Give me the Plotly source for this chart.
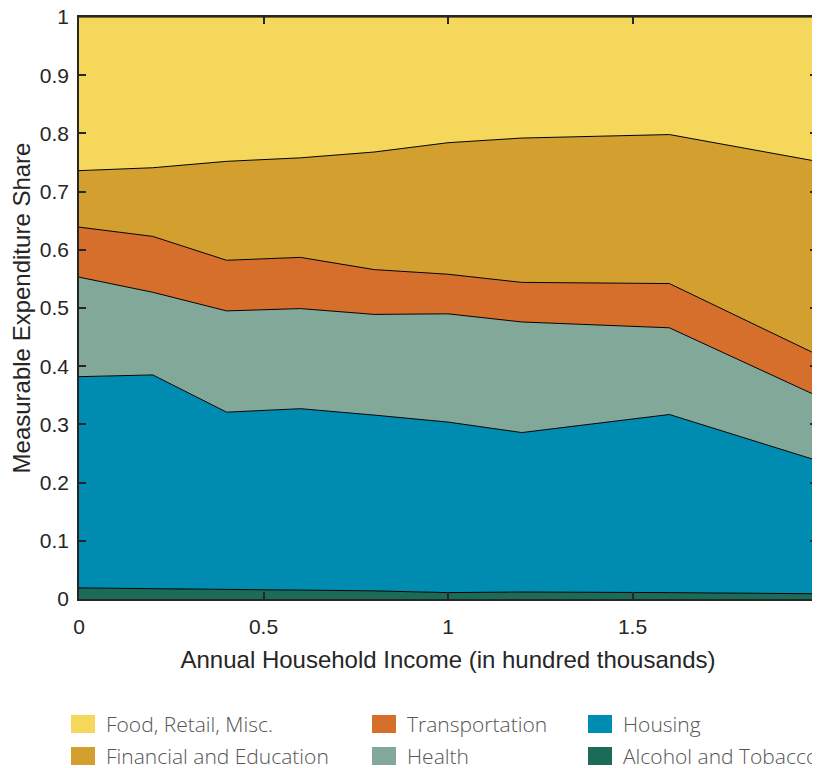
import plotly.graph_objects as go

income = [0, 0.2, 0.4, 0.6, 0.8, 1.0, 1.2, 1.6, 2.0]
alcohol = [0.019, 0.018, 0.016, 0.016, 0.014, 0.011, 0.012, 0.011, 0.009]
housing = [0.363, 0.367, 0.305, 0.311, 0.302, 0.293, 0.274, 0.306, 0.229]
health = [0.171, 0.142, 0.174, 0.172, 0.173, 0.186, 0.190, 0.149, 0.111]
transport = [0.086, 0.096, 0.087, 0.088, 0.077, 0.068, 0.068, 0.076, 0.071]
financial = [0.097, 0.118, 0.170, 0.171, 0.202, 0.226, 0.248, 0.256, 0.332]
food = [0.264, 0.259, 0.248, 0.242, 0.232, 0.216, 0.208, 0.202, 0.248]

x_ticks = [0, 0.5, 1, 1.5, 2]
x_ticklabels = ["0", "0.5", "1", "1.5", "2"]
y_ticks = [0, 0.1, 0.2, 0.3, 0.4, 0.5, 0.6, 0.7, 0.8, 0.9, 1]
y_ticklabels = ["0", "0.1", "0.2", "0.3", "0.4", "0.5", "0.6", "0.7", "0.8", "0.9", "1"]

series = [
    ("Alcohol and Tobacco", alcohol, "#1A6B58"),
    ("Housing", housing, "#008CB0"),
    ("Health", health, "#82A899"),
    ("Transportation", transport, "#D66E2C"),
    ("Financial and Education", financial, "#D3A02F"),
    ("Food, Retail, Misc.", food, "#F5D75C"),
]
colors = {name: col for name, _, col in series}
legend_rows = [
    ["Food, Retail, Misc.", "Transportation", "Housing"],
    ["Financial and Education", "Health", "Alcohol and Tobacco"],
]

fig = go.Figure()
for name, vals, col in series:
    fig.add_trace(go.Scatter(
        x=income, y=vals, name=name, stackgroup="one", mode="lines",
        line=dict(color="black", width=1), fillcolor=col, showlegend=False,
    ))

# page body has an 8px margin; the figure is sized to fill the rest of the window
OFF = 8
W, H = 820 - OFF, 768 - OFF
L, R, T, B = 79 - OFF, 3, 17 - OFF, 169
pw, ph = W - L - R, H - T - B

def px2x(px):
    return (px - OFF - L) / pw

def py2y(py):
    return (H - B - (py - OFF)) / ph

col_left = [71, 372, 588]
row_cy = [724, 756]
shapes = []
annotations = []
sqw, sqh = 24, 18
for r, row in enumerate(legend_rows):
    for c, name in enumerate(row):
        sx, cy = col_left[c], row_cy[r]
        shapes.append(dict(type="rect", xref="paper", yref="paper",
                           x0=px2x(sx), x1=px2x(sx + sqw), y0=py2y(cy + sqh / 2), y1=py2y(cy - sqh / 2),
                           fillcolor=colors[name], line=dict(width=0)))
        annotations.append(dict(xref="paper", yref="paper", x=px2x(sx + 33), y=py2y(cy),
                                xanchor="left", yanchor="middle", showarrow=False, text=name,
                                font=dict(family="Open Sans", size=21, color="#555555", weight=300)))

axis_common = dict(
    showline=True, linecolor="#262626", linewidth=1.5, mirror="ticks",
    ticks="inside", ticklen=7, tickwidth=1.5, tickcolor="#262626",
    showgrid=False, zeroline=False, automargin=False, ticklabeloverflow="allow",
    tickfont=dict(family="Liberation Sans", size=21, color="#262626"),
)

fig.update_layout(
    width=W, height=H, margin=dict(l=L, r=R, t=T, b=B),
    plot_bgcolor="white", paper_bgcolor="white",
    xaxis=dict(range=[0, 2], tickvals=x_ticks, ticktext=x_ticklabels, ticklabelstandoff=8,
               title=dict(text="Annual Household Income (in hundred thousands)", standoff=14,
                          font=dict(family="Liberation Sans", size=24, color="#262626")),
               **axis_common),
    yaxis=dict(range=[0, 1], tickvals=y_ticks, ticktext=y_ticklabels, ticklabelstandoff=4,
               title=dict(text="Measurable Expenditure Share", standoff=9,
                          font=dict(family="Liberation Sans", size=24, color="#262626")),
               **axis_common),
    shapes=shapes, annotations=annotations,
)

fig.write_html("out.html")
